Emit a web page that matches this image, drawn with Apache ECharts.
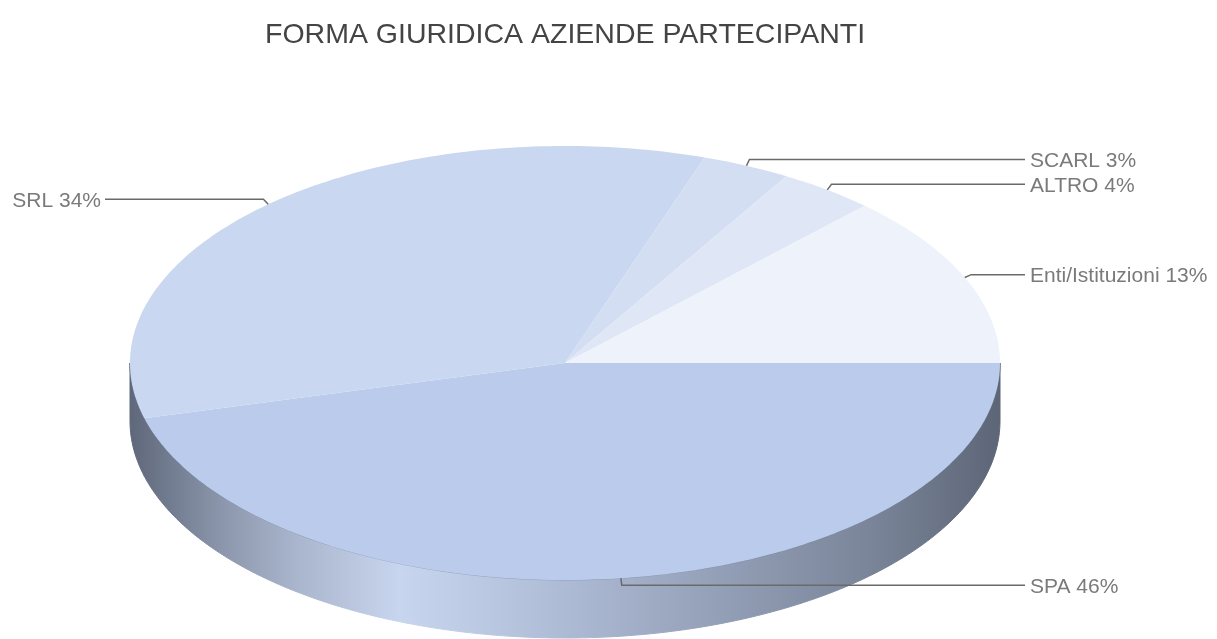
<!DOCTYPE html>
<html>
<head>
<meta charset="utf-8">
<script src="https://cdn.jsdelivr.net/npm/echarts@6/dist/echarts.min.js"></script>
<style>
  html, body { margin: 0; padding: 0; background: #fff; }
  #chart { width: 1217px; height: 639px; }
</style>
</head>
<body>
<div id="chart"></div>
<script>
// data (percent shares)
var names = ['SPA', 'SRL', 'SCARL', 'ALTRO', 'Enti/Istituzioni'];
var values = [45.9, 34.3, 3.3, 3.6, 12.9];
var top_colors = ['#BBCBEB', '#C9D7F0', '#D3DEF3', '#DFE7F6', '#EEF2FB'];

// pie geometry (pixels)
var CX = 565, CY = 363, RX = 435, RY = 217, DEPTH = 58;
var FONT = "'Liberation Sans', Arial, sans-serif";

var total = values.reduce(function(a, b){ return a + b }, 0);
var starts = [];
var acc = 0;
values.forEach(function(v){ starts.push(acc / total * 360); acc += v });

function pt(deg, dy){
  var r = deg * Math.PI / 180;
  return [CX + RX * Math.cos(r), CY + RY * Math.sin(r) + (dy || 0)];
}
function arc(a0, a1, dy){
  var pts = [];
  var n = Math.max(2, Math.ceil(Math.abs(a1 - a0)));
  for (var k = 0; k <= n; k++) pts.push(pt(a0 + (a1 - a0) * k / n, dy));
  return pts;
}

var side_fill = new echarts.graphic.LinearGradient(CX - RX, 0, CX + RX, 0, [
  {offset: 0, color: '#5F687A'},
  {offset: 0.11, color: '#8D98AE'},
  {offset: 0.19, color: '#A9B5CC'},
  {offset: 0.31, color: '#C8D5EE'},
  {offset: 0.43, color: '#B8C5DF'},
  {offset: 0.66, color: '#96A2BA'},
  {offset: 0.85, color: '#7A8599'},
  {offset: 1, color: '#5D6677'}
], true);

function render_side(params, api){
  var i = params.dataIndex;
  var a0 = starts[i], a1 = a0 + api.value(0) / total * 360;
  var s = Math.max(a0, 0), e = Math.min(a1, 180);
  if (e <= s) return {type: 'group', children: []};
  var pts = arc(s, e, 0).concat(arc(e, s, DEPTH));
  return {
    type: 'group',
    children: [
      {type: 'polygon', shape: {points: pts},
       style: {fill: side_fill, stroke: side_fill, lineWidth: 1}},
      {type: 'polyline', shape: {points: arc(s, e, 0)},
       style: {stroke: 'rgba(110,125,160,0.45)', lineWidth: 1, fill: null}}
    ]
  };
}

function render_top(params, api){
  var i = params.dataIndex;
  var v = api.value(0);
  var a0 = starts[i], a1 = a0 + v / total * 360;
  var pts = [[CX, CY]].concat(arc(a0, a1, 0));
  var mid = (a0 + a1) / 2 * Math.PI / 180;
  var anchor = pt((a0 + a1) / 2, 0);
  var elbow = [anchor[0] + 7 * Math.cos(mid), anchor[1] + 7 * Math.sin(mid)];
  var right = Math.cos(mid) >= 0;
  var end_x = right ? 1025 : 105;
  var label = names[i] + ' ' + Math.round(v / total * 100) + '%';
  return {
    type: 'group',
    children: [
      {type: 'polygon', shape: {points: pts}, style: {fill: top_colors[i]}},
      {type: 'polyline', z2: 10, shape: {points: [anchor, elbow, [end_x, elbow[1]]]},
       style: {stroke: '#6a6a6a', lineWidth: 1.5, fill: null}},
      {type: 'text', z2: 10, style: {
        text: label, x: right ? end_x + 5 : end_x - 4, y: elbow[1] + 2,
        align: right ? 'left' : 'right', verticalAlign: 'middle',
        fill: '#7a7a7a', fontSize: 21, fontFamily: FONT
      }}
    ]
  };
}

var chart_div = echarts.init(document.getElementById('chart'));
var option = {
  animation: false,
  title: {
    text: 'FORMA GIURIDICA AZIENDE PARTECIPANTI',
    left: 260,
    top: 16,
    textStyle: {fontSize: 28.5, fontWeight: 'normal', color: '#444444', fontFamily: FONT}
  },
  series: [
    {
      type: 'custom',
      coordinateSystem: 'none',
      z: 1,
      renderItem: render_side,
      data: values.map(function(v){ return [v] })
    },
    {
      type: 'custom',
      coordinateSystem: 'none',
      z: 2,
      renderItem: render_top,
      data: values.map(function(v){ return [v] })
    }
  ]
};
chart_div.setOption(option);
</script>
</body>
</html>
